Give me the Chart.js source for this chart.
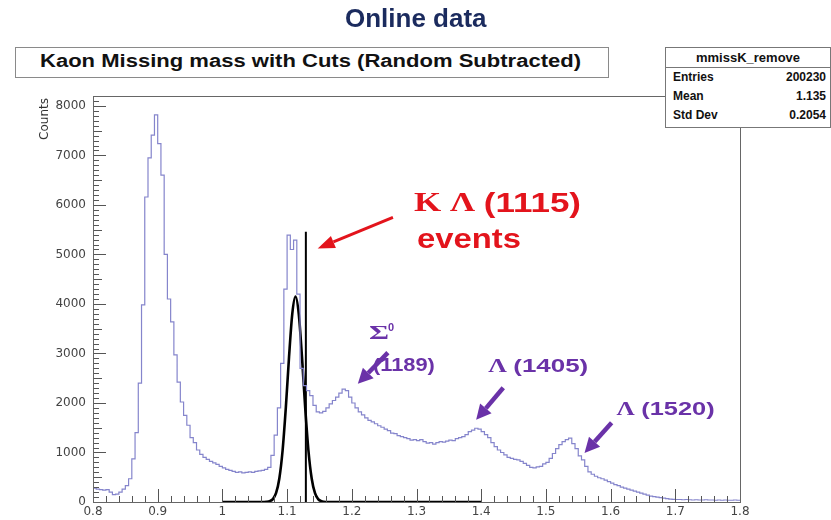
<!DOCTYPE html>
<html>
<head>
<meta charset="utf-8">
<script src="https://cdn.jsdelivr.net/npm/chart.js@4.4.1/dist/chart.umd.min.js"></script>
<style>
html, body { margin: 0; padding: 0; background: #fff; }
#wrap { position: relative; width: 831px; height: 520px; overflow: hidden; }
#c { position: absolute; left: 0; top: 0; }
.fit { position: absolute; white-space: nowrap; transform-origin: 0 50%; font-family: "Liberation Sans", Arial, sans-serif; font-weight: bold; }
#title { color: #1b2b5e; font-size: 26px; }
#hbox { position: absolute; left: 15px; top: 47px; width: 592px; height: 29px; border: 1px solid #8a8a8a; background: #fff; }
#hboxText { color: #111; font-size: 18px; }
#stats { position: absolute; left: 665px; top: 47px; width: 164px; height: 79px; border: 1px solid #777; background: #fff;
         font-family: "Liberation Sans", Arial, sans-serif; font-weight: bold; font-size: 12px; color: #111; }
#stats .hd { height: 19px; line-height: 19px; text-align: center; border-bottom: 1px solid #777; font-size: 13px; }
#stats .row { display: flex; justify-content: space-between; height: 19px; line-height: 19px; padding: 0 4px 0 7px; }
</style>
</head>
<body>
<div id="wrap">
  <canvas id="c" width="831" height="520"></canvas>
  <div id="title" class="fit">Online data</div>
  <div id="hbox"></div>
  <div id="hboxText" class="fit">Kaon Missing mass with Cuts (Random Subtracted)</div>
  <div id="stats"><div class="hd">mmissK_remove</div></div>
</div>
<script>
// Histogram: 200 bins of 0.005 from 0.8 to 1.8
const binStart = 0.8;
const binWidth = 0.005;
const kaonCounts = [
  280, 260, 250, 240, 250, 200, 150, 160, 200, 260,
  330, 470, 870, 1400, 2400, 3980, 6160, 6950, 7410, 7820,
  7240, 6600, 5000, 4100, 3640, 2970, 2420, 2020, 1750, 1550,
  1300, 1200, 1050, 960, 900, 860, 820, 790, 760, 720,
  690, 660, 640, 620, 600, 610, 590, 600, 610, 600,
  620, 630, 640, 660, 700, 940, 1350, 1900, 2800, 4300,
  5390, 5100, 5290, 4200, 2700, 2350, 2250, 2150, 1950, 1820,
  1800, 1830, 1900, 1980, 2050, 2120, 2200, 2280, 2250, 2120,
  2000, 1900, 1820, 1760, 1700, 1650, 1620, 1580, 1540, 1510,
  1470, 1440, 1390, 1380, 1340, 1320, 1300, 1280, 1250, 1260,
  1240, 1260, 1220, 1190, 1200, 1170, 1200, 1220, 1210, 1230,
  1250, 1240, 1280, 1300, 1320, 1360, 1420, 1450, 1490, 1470,
  1420, 1360, 1300, 1200, 1120, 1050, 1000, 950, 900, 880,
  860, 850, 820, 780, 740, 700, 690, 710, 720, 770,
  800, 880, 980, 1080, 1160, 1220, 1260, 1290, 1180, 1080,
  930, 850, 720, 610, 560, 520, 490, 470, 440, 410,
  380, 350, 330, 300, 280, 260, 240, 220, 200, 180,
  160, 140, 120, 110, 100, 90, 80, 70, 60, 55,
  50, 50, 45, 50, 45, 40, 45, 40, 40, 45,
  40, 40, 35, 40, 35, 40, 35, 35, 40, 35
];

// Lambda(1115) signal shape (black curve)
const lambdaX = [1.000, 1.060, 1.068, 1.073, 1.078, 1.083, 1.088, 1.093, 1.098, 1.103, 1.108, 1.113,
                 1.118, 1.123, 1.128, 1.133, 1.138, 1.143, 1.148, 1.153, 1.160, 1.400];
const lambdaY = [0, 0, 4, 16, 59, 183, 475, 1035, 1900, 2930, 3800, 4150,
                 3800, 2930, 1900, 1035, 475, 183, 59, 16, 0, 0];

// cut line
const cutX = [1.129, 1.129];
const cutY = [0, 5460];

const xTickValues = [0.8, 0.9, 1.0, 1.1, 1.2, 1.3, 1.4, 1.5, 1.6, 1.7, 1.8];
const xTickLabels = ['0.8', '0.9', '1', '1.1', '1.2', '1.3', '1.4', '1.5', '1.6', '1.7', '1.8'];
const yTickValues = [0, 1000, 2000, 3000, 4000, 5000, 6000, 7000, 8000];
const yTickLabels = ['0', '1000', '2000', '3000', '4000', '5000', '6000', '7000', '8000'];

const statsNames = ['Entries', 'Mean', 'Std Dev'];
const statsValues = ['200230', '1.135', '0.2054'];

// ---- header boxes ----
function fitText(el, left, centerY, width) {
    const w = el.offsetWidth, h = el.offsetHeight;
    el.style.left = left + 'px';
    el.style.top = (centerY - h / 2) + 'px';
    el.style.transform = 'scaleX(' + (width / w) + ')';
}
fitText(document.getElementById('title'), 345, 18, 142);
fitText(document.getElementById('hboxText'), 40, 61, 541);

const statsBox = document.getElementById('stats');
statsNames.forEach((name, i) => {
    const row = document.createElement('div');
    row.className = 'row';
    const a = document.createElement('span');
    a.textContent = name;
    const b = document.createElement('span');
    b.textContent = statsValues[i];
    row.appendChild(a);
    row.appendChild(b);
    statsBox.appendChild(row);
});

// ---- plot ----
const histPoints = kaonCounts.map((v, i) => ({ x: binStart + i * binWidth, y: v }));
histPoints.push({ x: binStart + kaonCounts.length * binWidth, y: kaonCounts[kaonCounts.length - 1] });
const lambdaPoints = lambdaX.map((x, i) => ({ x: x, y: lambdaY[i] }));
const cutPoints = cutX.map((x, i) => ({ x: x, y: cutY[i] }));

// ROOT style frame with inner ticks
const framePlugin = {
    id: 'rootFrame',
    afterDatasetsDraw(chart) {
        const { ctx, chartArea: a, scales: { x, y } } = chart;
        ctx.save();
        ctx.strokeStyle = '#555';
        ctx.lineWidth = 1;
        ctx.beginPath();
        for (let k = 0; k <= 82; k++) {
            const py = Math.round(y.getPixelForValue(k * 100)) + 0.5;
            const len = k % 10 === 0 ? 13 : (k % 5 === 0 ? 9 : 6);
            ctx.moveTo(a.left, py);
            ctx.lineTo(a.left + len, py);
        }
        for (let k = 0; k <= 50; k++) {
            const px = Math.round(x.getPixelForValue(0.8 + k * 0.02)) + 0.5;
            const len = k % 5 === 0 ? 13 : 6;
            ctx.moveTo(px, a.bottom);
            ctx.lineTo(px, a.bottom - len);
        }
        ctx.stroke();
        ctx.strokeStyle = '#666';
        ctx.strokeRect(a.left + 0.5, a.top + 0.5, a.right - a.left, a.bottom - a.top);
        // axis title
        ctx.translate(45, a.top + 2);
        ctx.rotate(-Math.PI / 2);
        ctx.fillStyle = '#333';
        ctx.font = '12px "DejaVu Sans"';
        ctx.textAlign = 'right';
        ctx.textBaseline = 'middle';
        ctx.fillText('Counts', 0, 0);
        ctx.restore();
    }
};

// labels and arrows, positioned in data units
const red = '#e3141c';
const purple = '#6a32a8';
const notes = [
    { x: 1.2961, y: 6012, width: 167, color: red, parts: [['K Λ ', 'bold 27px "Liberation Serif"'], ['(1115)', 'bold 27px "Liberation Sans"']] },
    { x: 1.3008, y: 5283, width: 104, color: red, parts: [['events', 'bold 27px "Liberation Sans"']] },
    { x: 1.2264, y: 3401, width: 20, color: purple, parts: [['Σ', 'bold 19px "Liberation Serif"']] },
    { x: 1.2326, y: 2753, width: 62, color: purple, parts: [['(1189)', 'bold 19px "Liberation Sans"']] },
    { x: 1.4109, y: 2733, width: 100, color: purple, parts: [['Λ ', 'bold 19px "Liberation Serif"'], ['(1405)', 'bold 19px "Liberation Sans"']] },
    { x: 1.6093, y: 1862, width: 98, color: purple, parts: [['Λ ', 'bold 19px "Liberation Serif"'], ['(1520)', 'bold 19px "Liberation Sans"']] }
];
const arrows = [
    { from: [1.2636, 5749], to: [1.1473, 5121], color: red, lw: 3, head: 17, hw: 13 },
    { from: [1.2558, 3016], to: [1.2093, 2389], color: purple, lw: 4.5, head: 15, hw: 15 },
    { from: [1.4341, 2308], to: [1.3922, 1660], color: purple, lw: 4.5, head: 15, hw: 15 },
    { from: [1.6016, 1599], to: [1.5597, 992], color: purple, lw: 4.5, head: 15, hw: 15 }
];

function drawArrow(ctx, x1, y1, x2, y2, o) {
    const ang = Math.atan2(y2 - y1, x2 - x1);
    const bx = x2 - Math.cos(ang) * o.head, by = y2 - Math.sin(ang) * o.head;
    ctx.strokeStyle = o.color;
    ctx.fillStyle = o.color;
    ctx.lineWidth = o.lw;
    ctx.beginPath();
    ctx.moveTo(x1, y1);
    ctx.lineTo(bx, by);
    ctx.stroke();
    ctx.beginPath();
    ctx.moveTo(x2, y2);
    ctx.lineTo(bx + Math.sin(ang) * o.hw / 2, by - Math.cos(ang) * o.hw / 2);
    ctx.lineTo(bx - Math.sin(ang) * o.hw / 2, by + Math.cos(ang) * o.hw / 2);
    ctx.closePath();
    ctx.fill();
}

const notesPlugin = {
    id: 'notes',
    afterDraw(chart) {
        const { ctx, scales: { x, y } } = chart;
        ctx.save();
        arrows.forEach(a => drawArrow(ctx, x.getPixelForValue(a.from[0]), y.getPixelForValue(a.from[1]),
            x.getPixelForValue(a.to[0]), y.getPixelForValue(a.to[1]), a));
        ctx.textBaseline = 'middle';
        notes.forEach(n => {
            let total = 0;
            n.parts.forEach(p => { ctx.font = p[1]; total += ctx.measureText(p[0]).width; });
            ctx.save();
            ctx.translate(x.getPixelForValue(n.x), y.getPixelForValue(n.y));
            ctx.scale(n.width / total, 1);
            ctx.fillStyle = n.color;
            let cx = 0;
            n.parts.forEach(p => { ctx.font = p[1]; ctx.fillText(p[0], cx, 0); cx += ctx.measureText(p[0]).width; });
            ctx.restore();
        });
        // superscript 0 on Sigma
        ctx.fillStyle = purple;
        ctx.font = 'bold 11px "Liberation Sans"';
        ctx.fillText('0', x.getPixelForValue(1.2264) + 19, y.getPixelForValue(3401) - 6);
        ctx.restore();
    }
};

new Chart(document.getElementById('c').getContext('2d'), {
    type: 'line',
    data: {
        datasets: [
            { label: 'mmissK_remove', data: histPoints, borderColor: '#8585cc', borderWidth: 1.2, stepped: true, pointRadius: 0, fill: false },
            { label: 'Lambda(1115)', data: lambdaPoints, borderColor: '#000', borderWidth: 2.6, cubicInterpolationMode: 'monotone', pointRadius: 0, fill: false },
            { label: 'cut', data: cutPoints, borderColor: '#000', borderWidth: 2, pointRadius: 0, fill: false }
        ]
    },
    options: {
        responsive: false,
        animation: false,
        layout: { padding: { top: 96, right: 91, left: 0, bottom: 0 } },
        plugins: { legend: { display: false }, tooltip: { enabled: false } },
        scales: {
            x: {
                type: 'linear', min: 0.8, max: 1.8,
                grid: { display: false, drawTicks: false },
                border: { display: false },
                afterBuildTicks: s => { s.ticks = xTickValues.map(v => ({ value: v })); },
                afterFit: s => { s.height = 18; },
                ticks: {
                    callback: (v, i) => xTickLabels[i],
                    font: { family: '"DejaVu Sans"', size: 12 },
                    color: '#444', padding: 3, maxRotation: 0, autoSkip: false
                }
            },
            y: {
                type: 'linear', min: 0, max: 8200,
                grid: { display: false, drawTicks: false },
                border: { display: false },
                afterBuildTicks: s => { s.ticks = yTickValues.map(v => ({ value: v })); },
                afterFit: s => { s.width = 93; },
                ticks: {
                    callback: (v, i) => yTickLabels[i],
                    font: { family: '"DejaVu Sans"', size: 12 },
                    color: '#444', padding: 7, autoSkip: false
                }
            }
        }
    },
    plugins: [framePlugin, notesPlugin]
});
</script>
</body>
</html>
